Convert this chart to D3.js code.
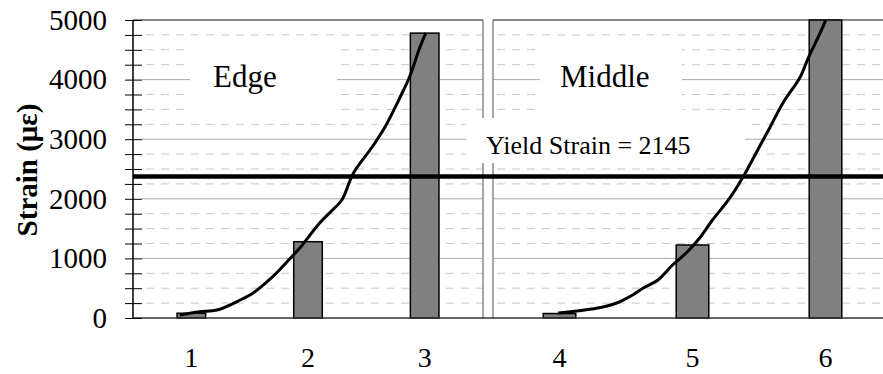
<!DOCTYPE html>
<html>
<head>
<meta charset="utf-8">
<script src="https://cdn.jsdelivr.net/npm/d3@7/dist/d3.min.js"></script>
<style>
  html, body { margin: 0; padding: 0; background: #fff; }
  svg { display: block; }
  text { font-family: "Liberation Serif", "Times New Roman", serif; fill: #000; }
</style>
</head>
<body>
<svg id="chart" width="883" height="374"></svg>
<script>
// ---------- data ----------
const edgeCategories = ["1", "2", "3"];
const middleCategories = ["4", "5", "6"];
const edgeValues = [80, 1280, 4780];
const middleValues = [75, 1225, 5000];

// strain curves (x in category units, y in microstrain)
const edgeCurveX = [0.90, 1.07, 1.22, 1.42, 1.53, 1.65, 1.73, 1.85, 1.93, 2.10, 2.21, 2.29, 2.39, 2.55, 2.66, 2.79, 2.87, 2.96, 3.01];
const edgeCurveY = [50, 106, 134, 302, 419, 609, 755, 1007, 1174, 1594, 1812, 1980, 2433, 2869, 3205, 3708, 4044, 4547, 4782];
const middleCurveX = [3.99, 4.31, 4.43, 4.55, 4.63, 4.74, 4.85, 4.96, 5.06, 5.15, 5.27, 5.38, 5.49, 5.58, 5.68, 5.81, 5.87, 5.96, 6.00];
const middleCurveY = [84, 176, 252, 386, 503, 638, 889, 1107, 1359, 1644, 1980, 2366, 2819, 3188, 3607, 4044, 4362, 4782, 4990];

const yieldValue = 2375;
const yieldLabel = "Yield Strain = 2145";
const panelLabels = ["Edge", "Middle"];
const yMajorTicks = [0, 1000, 2000, 3000, 4000, 5000];
const yMinorStep = 250;
const yTitle = "Strain (\u03bc\u03b5)";

// ---------- layout ----------
const svg = d3.select("#chart");
const W = 883;
const plotTop = 20, plotBottom = 318;
const leftX0 = 133, leftX1 = 483;
const rightX0 = 493, rightX1 = 892;

const y = d3.scaleLinear().domain([0, 5000]).range([plotBottom, plotTop]);

const xEdge = d3.scaleBand().domain(edgeCategories).range([leftX0, leftX1]);
const xMiddle = d3.scaleBand().domain(middleCategories).range([rightX0, rightX1]);
const xEdgeLin = d3.scaleLinear().domain([0.5, 3.5]).range([leftX0, leftX1]);
const xMiddleLin = d3.scaleLinear().domain([3.5, 6.5]).range([rightX0, rightX1]);

const allTicks = d3.range(0, 5000 + 1, yMinorStep);
const minorTicks = allTicks.filter(v => v % 1000 !== 0);
const innerMajor = yMajorTicks.filter(v => v !== 0 && v !== 5000);

// ---------- gridlines ----------
const grid = svg.append("g");
const panels = [[leftX0 + 9, leftX1], [rightX0, W]];
panels.forEach(([a, b]) => {
  grid.selectAll(null).data(minorTicks).enter().append("line")
    .attr("x1", a).attr("x2", b)
    .attr("y1", d => y(d)).attr("y2", d => y(d))
    .attr("stroke", "#c8c8c8").attr("stroke-width", 1)
    .attr("stroke-dasharray", "8,7").attr("stroke-dashoffset", -4);
  grid.selectAll(null).data(innerMajor).enter().append("line")
    .attr("x1", a).attr("x2", b)
    .attr("y1", d => y(d)).attr("y2", d => y(d))
    .attr("stroke", "#aaaaaa").attr("stroke-width", 1);
});

// panel borders
const border = svg.append("g").attr("stroke", "#888").attr("stroke-width", 2).attr("fill", "none");
border.append("line").attr("x1", leftX0).attr("x2", leftX1).attr("y1", y(5000)).attr("y2", y(5000));
border.append("line").attr("x1", rightX0).attr("x2", W).attr("y1", y(5000)).attr("y2", y(5000));
border.append("line").attr("x1", leftX1).attr("x2", leftX1).attr("y1", y(5000)).attr("y2", y(0)).attr("stroke-width", 1.5);
border.append("line").attr("x1", rightX0).attr("x2", rightX0).attr("y1", y(5000)).attr("y2", y(0)).attr("stroke-width", 1.5);

// white label boxes
const boxes = [
  { x: 190, y: 40, w: 147, h: 77 },
  { x: 540, y: 40, w: 142, h: 77 },
  { x: 466, y: 118, w: 279, h: 45 }
];
svg.append("g").selectAll("rect").data(boxes).enter().append("rect")
  .attr("x", d => d.x).attr("y", d => d.y).attr("width", d => d.w).attr("height", d => d.h)
  .attr("fill", "#fff");

// ---------- bars ----------
const barFrac = 0.245;
const bars = svg.append("g");
bars.selectAll(null).data(edgeCategories.map((c, i) => ({ c, v: edgeValues[i] }))).enter().append("rect")
  .attr("x", d => xEdge(d.c) + xEdge.bandwidth() * (1 - barFrac) / 2)
  .attr("width", xEdge.bandwidth() * barFrac)
  .attr("y", d => y(d.v)).attr("height", d => y(0) - y(d.v))
  .attr("fill", "#808080").attr("stroke", "#000").attr("stroke-width", 1.5);
bars.selectAll(null).data(middleCategories.map((c, i) => ({ c, v: middleValues[i] }))).enter().append("rect")
  .attr("x", d => xMiddle(d.c) + xMiddle.bandwidth() * (1 - barFrac) / 2)
  .attr("width", xMiddle.bandwidth() * barFrac)
  .attr("y", d => y(d.v)).attr("height", d => y(0) - y(d.v))
  .attr("fill", "#808080").attr("stroke", "#000").attr("stroke-width", 1.5);

// ---------- curves ----------
const edgeLine = d3.line().x(d => xEdgeLin(d[0])).y(d => y(d[1])).curve(d3.curveCatmullRom.alpha(0.5));
const midLine = d3.line().x(d => xMiddleLin(d[0])).y(d => y(d[1])).curve(d3.curveCatmullRom.alpha(0.5));
svg.append("path").attr("d", edgeLine(d3.zip(edgeCurveX, edgeCurveY)))
  .attr("fill", "none").attr("stroke", "#000").attr("stroke-width", 3);
svg.append("path").attr("d", midLine(d3.zip(middleCurveX, middleCurveY)))
  .attr("fill", "none").attr("stroke", "#000").attr("stroke-width", 3);

// ---------- yield line ----------
svg.append("line").attr("x1", leftX0).attr("x2", W)
  .attr("y1", y(yieldValue)).attr("y2", y(yieldValue))
  .attr("stroke", "#000").attr("stroke-width", 4.5);

// ---------- axes ----------
// bottom axis line
svg.append("line").attr("x1", leftX0).attr("x2", W).attr("y1", y(0)).attr("y2", y(0))
  .attr("stroke", "#333").attr("stroke-width", 1.5);

const yAxis = d3.axisLeft(y).tickValues(allTicks).tickSize(17).tickPadding(18)
  .tickFormat(d => (d % 1000 === 0 ? String(d) : ""));
const yg = svg.append("g").attr("transform", `translate(${leftX0 + 9},0)`).call(yAxis);
yg.select(".domain").remove();
yg.selectAll(".tick line").attr("stroke", "#000").attr("stroke-width", 1);
yg.selectAll(".tick text").style("font-family", '"Liberation Serif", "Times New Roman", serif')
  .style("font-size", "29px").attr("fill", "#000");
svg.append("line").attr("x1", leftX0).attr("x2", leftX0).attr("y1", y(5000)).attr("y2", y(0))
  .attr("stroke", "#000").attr("stroke-width", 1.5);

const xgE = svg.append("g").attr("transform", `translate(0,${plotBottom})`)
  .call(d3.axisBottom(xEdge).tickSize(0).tickPadding(29));
const xgM = svg.append("g").attr("transform", `translate(0,${plotBottom})`)
  .call(d3.axisBottom(xMiddle).tickSize(0).tickPadding(29));
[xgE, xgM].forEach(g => {
  g.select(".domain").remove();
  g.selectAll(".tick text").style("font-family", '"Liberation Serif", "Times New Roman", serif')
    .style("font-size", "28px").attr("fill", "#000");
});

// ---------- texts ----------
svg.append("text").attr("x", 213).attr("y", 87).style("font-size", "31px").text(panelLabels[0]);
svg.append("text").attr("x", 560).attr("y", 87).style("font-size", "31px").text(panelLabels[1]);
svg.append("text").attr("x", 486).attr("y", 154).style("font-size", "26px").text(yieldLabel);

svg.append("text")
  .attr("transform", "translate(37,170) rotate(-90)")
  .attr("text-anchor", "middle")
  .style("font-size", "29px").style("font-weight", "bold")
  .text(yTitle);
</script>
</body>
</html>
